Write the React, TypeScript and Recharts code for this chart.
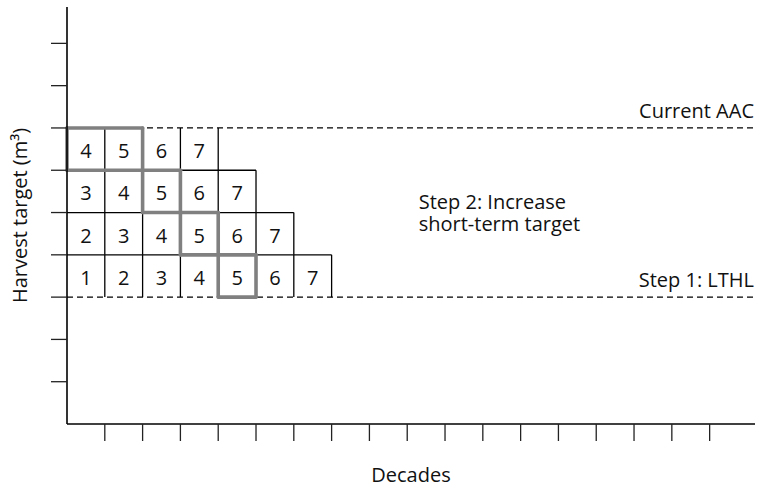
import { ComposedChart, XAxis, YAxis, Scatter, ReferenceLine, ReferenceDot, Label } from 'recharts';

const decadeTicks = [1, 2, 3, 4, 5, 6, 7, 8, 9, 10, 11, 12, 13, 14, 15, 16, 17];
const targetTicks = [1, 2, 3, 4, 5, 6, 7, 8, 9];

// each row of the staircase: lower edge on the target axis, first decade label
const rowBottoms = [3, 4, 5, 6];
const rowFirstDecade = [1, 2, 3, 4];
const lastDecade = 7;

const lthl = 3;
const currentAac = 7;

// [row index, first highlighted decade, last highlighted decade]
const highlightRuns = [
  [3, 4, 5],
  [2, 5, 5],
  [1, 5, 5],
  [0, 5, 5],
];

const FONT = '"Open Sans", sans-serif';
const TEXT = '#111';
const FS = 20;

const rows = rowBottoms.map((y, r) => ({ y, first: rowFirstDecade[r], count: lastDecade - rowFirstDecade[r] + 1 }));

const cells = rows.flatMap((row) =>
  Array.from({ length: row.count }, (_, i) => ({ x: i + 0.5, y: row.y + 0.5, label: row.first + i }))
);

// sides of each highlighted block, as segments
const highlightSides = highlightRuns.flatMap(([r, a, b]) => {
  const x1 = a - rows[r].first;
  const x2 = b - rows[r].first + 1;
  const y1 = rows[r].y;
  const y2 = y1 + 1;
  return [
    [{ x: x1, y: y1 }, { x: x2, y: y1 }],
    [{ x: x1, y: y2 }, { x: x2, y: y2 }],
    [{ x: x1, y: y1 }, { x: x1, y: y2 }],
    [{ x: x2, y: y1 }, { x: x2, y: y2 }],
  ];
});

const RightNote = ({ viewBox, note }: any) => (
  <text x={viewBox.x + viewBox.width - 1} y={viewBox.y - 10} textAnchor="end" fontSize={FS} fontFamily={FONT} fill={TEXT}>
    {note}
  </text>
);

const StepNote = ({ viewBox }: any) => (
  <text x={viewBox.x} y={viewBox.y} fontSize={FS} fontFamily={FONT} fill={TEXT}>
    <tspan x={viewBox.x}>Step 2: Increase</tspan>
    <tspan x={viewBox.x} dy={21.5}>short-term target</tspan>
  </text>
);

const YTitle = ({ viewBox }: any) => {
  const x = viewBox.x + viewBox.width - 40;
  const y = viewBox.y + viewBox.height / 2;
  return (
    <text x={x} y={y} transform={`rotate(-90, ${x}, ${y})`} textAnchor="middle" fontSize={FS} fontFamily={FONT} fill={TEXT}>
      Harvest target (m³)
    </text>
  );
};

const noLabel = () => '';

export default function App() {
  return (
    <div style={{ position: 'absolute', left: 0, top: 0, background: '#fff' }}>
      <ComposedChart width={760} height={489} margin={{ top: 7, right: 5, bottom: 0, left: 0 }} style={{ fontFamily: FONT }}>
        <XAxis
          type="number"
          dataKey="x"
          domain={[0, 18.2]}
          ticks={decadeTicks}
          tickFormatter={noLabel}
          tickSize={17}
          height={65}
          allowDataOverflow
          axisLine={{ stroke: '#000', strokeWidth: 1.6 }}
          tickLine={{ stroke: '#222', strokeWidth: 1.3 }}
        >
          <Label value="Decades" position="insideTop" offset={44} fontSize={FS} fill={TEXT} />
        </XAxis>
        <YAxis
          type="number"
          dataKey="y"
          domain={[0, 9.86]}
          ticks={targetTicks}
          tickFormatter={noLabel}
          tickSize={16}
          width={67}
          allowDataOverflow
          axisLine={{ stroke: '#000', strokeWidth: 1.6 }}
          tickLine={{ stroke: '#222', strokeWidth: 1.3 }}
          label={<YTitle />}
        />

        {/* cell walls */}
        {rows.flatMap((row) =>
          Array.from({ length: row.count }, (_, i) => (
            <ReferenceLine
              key={`v-${row.y}-${i}`}
              segment={[{ x: i + 1, y: row.y }, { x: i + 1, y: row.y + 1 }]}
              stroke="#000"
              strokeWidth={1.3}
            />
          ))
        )}
        {rows
          .filter((row) => row.y + 1 !== currentAac)
          .map((row) => (
            <ReferenceLine
              key={`h-${row.y}`}
              segment={[{ x: 0, y: row.y + 1 }, { x: row.count, y: row.y + 1 }]}
              stroke="#000"
              strokeWidth={1.3}
            />
          ))}

        <ReferenceLine y={currentAac} stroke="#000" strokeWidth={1.3} strokeDasharray="6 4" label={<RightNote note="Current AAC" />} />
        <ReferenceLine y={lthl} stroke="#000" strokeWidth={1.3} strokeDasharray="6 4" label={<RightNote note="Step 1: LTHL" />} />

        {highlightSides.map((seg, i) => (
          <ReferenceLine key={`hl-${i}`} segment={seg} stroke="#808080" strokeWidth={3.6} strokeLinecap="round" />
        ))}

        <ReferenceDot x={9.33} y={5.06} r={1} fill="none" stroke="none" label={<StepNote />} />

        <Scatter
          data={cells}
          isAnimationActive={false}
          shape={(p: any) => (
            <text x={p.cx} y={p.cy} dy={9} textAnchor="middle" fontSize={FS} fontFamily={FONT} fill={TEXT}>
              {p.payload.label}
            </text>
          )}
        />
      </ComposedChart>
    </div>
  );
}
